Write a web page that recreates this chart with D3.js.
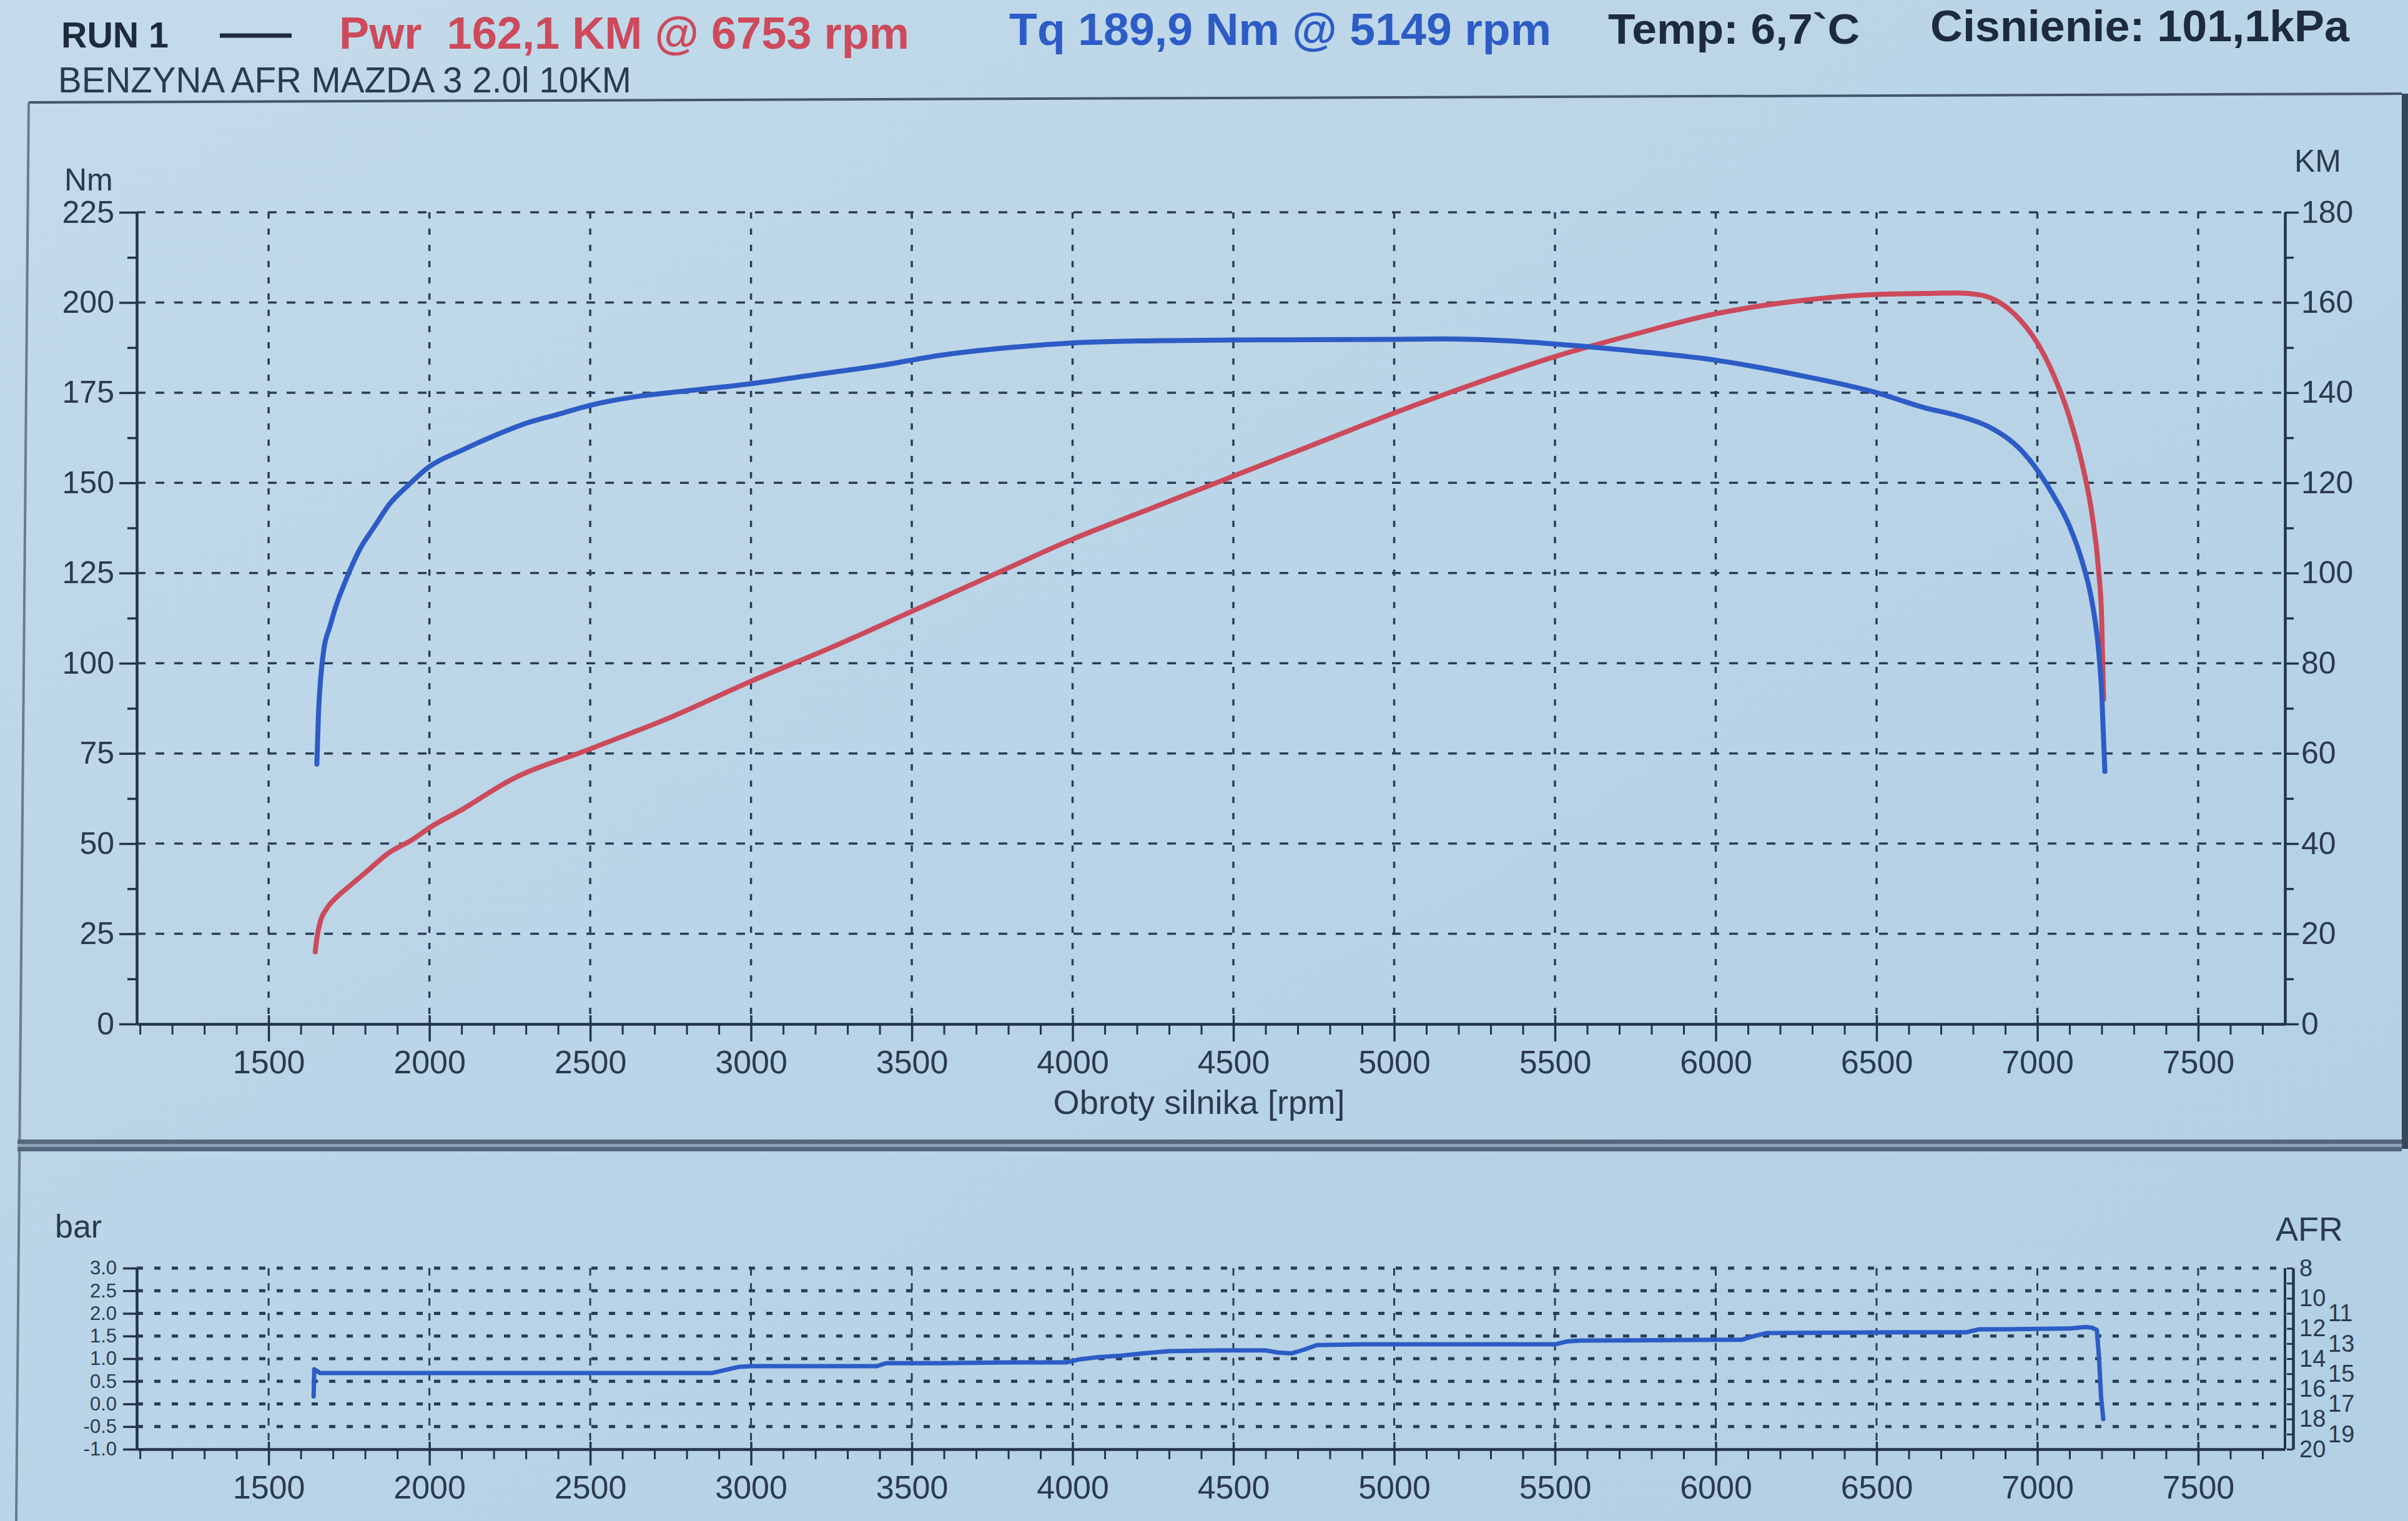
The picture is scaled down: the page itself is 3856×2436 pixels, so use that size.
<!DOCTYPE html>
<html><head><meta charset="utf-8">
<script src="https://cdn.jsdelivr.net/npm/d3@7"></script>
<style>html,body{margin:0;padding:0;background:#bad5e8;} svg{display:block} text{white-space:pre}</style>
</head><body>
<svg id="c" width="3856" height="2436"></svg>
<script>
// ---------- DATA ----------
const rpmTicks = [1500,2000,2500,3000,3500,4000,4500,5000,5500,6000,6500,7000,7500];
const nmTicks  = [0,25,50,75,100,125,150,175,200,225];
const kmTicks  = [0,20,40,60,80,100,120,140,160,180];
const barTicks = [-1.0,-0.5,0.0,0.5,1.0,1.5,2.0,2.5,3.0];
const afrTicks = [8,10,11,12,13,14,15,16,17,18,19,20];

const torqueRpm = [1650,1655,1662,1672,1690,1710,1740,1780,1830,1875,1930,2000,2100,2200,2300,2400,2500,2650,2800,3000,3200,3400,3600,3800,4000,4250,4500,4750,5000,5149,5300,5500,5750,6000,6250,6500,6650,6753,6850,6950,7000,7050,7100,7140,7170,7190,7200,7210];
const torqueNm  = [72,86,96,104,110,116,123,131,138,144,149,154.5,159,163,166.5,169,171.5,174,175.5,177.5,180,182.5,185.5,187.5,188.8,189.4,189.6,189.7,189.8,189.9,189.6,188.5,186.5,184,180,175,170.8,168.6,165.5,159,153.5,146.5,138,128,117,104,92,70];

const powerRpm = [1645,1650,1660,1680,1710,1750,1800,1875,1950,2000,2100,2250,2500,2750,3000,3250,3500,3750,4000,4250,4500,4750,5000,5250,5500,5750,6000,6250,6500,6650,6753,6820,6870,6920,6960,7000,7050,7100,7140,7170,7190,7200,7206];
const powerKm  = [16,19,22.5,25.5,28,30.5,33.5,38,41,43.5,47.5,54,61,68,76,83.5,91.5,99.5,107.5,114.5,121.5,128.5,135.5,142,148,153,157.5,160.3,161.8,162,162.1,161.7,160.5,158,155,151,144,134.5,124,113,101,90,72];

const afrRpm = [1640,1642,1660,1800,2000,2200,2500,2700,2880,2920,2960,3000,3200,3390,3420,3600,3800,3980,4020,4080,4150,4220,4300,4450,4600,4640,4680,4720,4760,4900,5100,5300,5500,5540,5580,5800,6000,6080,6120,6160,6400,6600,6780,6820,6900,7000,7100,7150,7170,7185,7192,7198,7205];
const afrVal = [16.5,14.7,14.95,14.95,14.95,14.95,14.95,14.95,14.95,14.75,14.55,14.5,14.5,14.5,14.3,14.3,14.25,14.25,14.05,13.9,13.8,13.65,13.5,13.45,13.45,13.6,13.65,13.4,13.1,13.05,13.05,13.05,13.05,12.85,12.8,12.78,12.75,12.75,12.5,12.3,12.27,12.25,12.25,12.05,12.05,12.02,12.0,11.9,11.95,12.1,14.0,16.5,18.0];

// ---------- SETUP ----------
const W = 3856, H = 2436;
const FONT = "'Liberation Sans', Arial, sans-serif";
const INK = '#1d2b3c';
const GRID = '#2a3c53';
const AX = '#22334a';
const BLUE = '#2d5cc6';
const RED = '#cc4a5b';

const svg = d3.select('#c');
const defs = svg.append('defs');
const lg = defs.append('linearGradient').attr('id','bg').attr('x1',0).attr('y1',0).attr('x2',1).attr('y2',1);
lg.append('stop').attr('offset',0).attr('stop-color','#c3dbea');
lg.append('stop').attr('offset',0.5).attr('stop-color','#b9d4e7');
lg.append('stop').attr('offset',1).attr('stop-color','#b2cfe4');
svg.append('rect').attr('width',W).attr('height',H).attr('fill','url(#bg)');

// frame decoration
svg.append('line').attr('x1',46).attr('y1',164).attr('x2',3846).attr('y2',150).attr('stroke','#44556b').attr('stroke-width',4);
svg.append('line').attr('x1',46).attr('y1',164).attr('x2',26).attr('y2',2436).attr('stroke','#6a7b8e').attr('stroke-width',4);
svg.append('rect').attr('x',28).attr('y',1825).attr('width',3818).attr('height',19).attr('fill','#56677b');
svg.append('line').attr('x1',28).attr('y1',1834.5).attr('x2',3846).attr('y2',1834.5).attr('stroke','#8aa2b7').attr('stroke-width',5);
svg.append('rect').attr('x',3846).attr('y',150).attr('width',10).attr('height',1690).attr('fill','#34465a');

// ---------- SCALES ----------
const x = d3.scaleLinear().domain([1090,7770]).range([219,3659]);
const yNm = d3.scaleLinear().domain([0,225]).range([1640,340]);
const yKm = d3.scaleLinear().domain([0,180]).range([1640,340]);
const yBar = d3.scaleLinear().domain([-1,3]).range([2321,2031]);
const yAfr = d3.scaleLinear().domain([20,8]).range([2321,2031]);

function styleAxis(g, fs, lw){
  g.attr('font-family', FONT).attr('font-size', fs).attr('color', INK);
  g.select('.domain').attr('stroke', AX).attr('stroke-width', 4.5);
  g.selectAll('.tick line').attr('stroke', AX).attr('stroke-width', lw || 3.5);
  g.selectAll('.tick text').attr('fill', '#2b3a4e');
}

// ---------- MAIN GRID ----------
const gGrid = svg.append('g');
gGrid.selectAll('line.h').data(nmTicks.filter(d => d > 0)).join('line')
  .attr('x1', x.range()[0]).attr('x2', x.range()[1])
  .attr('y1', d => yNm(d)).attr('y2', d => yNm(d))
  .attr('stroke', GRID).attr('stroke-width', 3.5).attr('stroke-dasharray', '14,16');
gGrid.selectAll('line.v').data(rpmTicks).join('line')
  .attr('x1', d => x(d)).attr('x2', d => x(d))
  .attr('y1', yNm(225)).attr('y2', yNm(0))
  .attr('stroke', GRID).attr('stroke-width', 3.5).attr('stroke-dasharray', '10,16');

// ---------- MAIN AXES ----------
const gL = svg.append('g').attr('transform', `translate(${x.range()[0]},0)`)
  .call(d3.axisLeft(yNm).tickValues(nmTicks).tickSize(28).tickPadding(8).tickSizeOuter(0));
styleAxis(gL, 50);
const gLm = svg.append('g').attr('transform', `translate(${x.range()[0]},0)`)
  .call(d3.axisLeft(yNm).tickValues(d3.range(12.5, 225, 25)).tickSize(15).tickFormat('').tickSizeOuter(0));
styleAxis(gLm, 50); gLm.select('.domain').remove();

const gR = svg.append('g').attr('transform', `translate(${x.range()[1]},0)`)
  .call(d3.axisRight(yKm).tickValues(kmTicks).tickSize(22).tickPadding(4).tickSizeOuter(0));
styleAxis(gR, 50);
const gRm = svg.append('g').attr('transform', `translate(${x.range()[1]},0)`)
  .call(d3.axisRight(yKm).tickValues(d3.range(10, 180, 20)).tickSize(14).tickFormat('').tickSizeOuter(0));
styleAxis(gRm, 50); gRm.select('.domain').remove();

const gX = svg.append('g').attr('transform', `translate(0,${yNm(0)})`)
  .call(d3.axisBottom(x).tickValues(rpmTicks).tickSize(28).tickPadding(14).tickFormat(d3.format('d')).tickSizeOuter(0));
styleAxis(gX, 52);
const gXu = svg.append('g').attr('transform', `translate(0,${yNm(0)})`)
  .call(d3.axisTop(x).tickValues(rpmTicks).tickSize(14).tickFormat('').tickSizeOuter(0));
styleAxis(gXu, 52); gXu.select('.domain').remove();
const gXm = svg.append('g').attr('transform', `translate(0,${yNm(0)})`)
  .call(d3.axisBottom(x).tickValues(d3.range(1100, 7800, 100).filter(d => d % 500)).tickSize(17).tickFormat('').tickSizeOuter(0));
styleAxis(gXm, 52, 3); gXm.select('.domain').remove();

// ---------- MAIN CURVES ----------
const lineNm = d3.line().x(d => x(d[0])).y(d => yNm(d[1])).curve(d3.curveMonotoneX);
const lineKm = d3.line().x(d => x(d[0])).y(d => yKm(d[1])).curve(d3.curveMonotoneX);
svg.append('path').datum(d3.zip(powerRpm, powerKm)).attr('d', lineKm)
  .attr('fill','none').attr('stroke', RED).attr('stroke-width', 8).attr('stroke-linejoin','round').attr('stroke-linecap','round');
svg.append('path').datum(d3.zip(torqueRpm, torqueNm)).attr('d', lineNm)
  .attr('fill','none').attr('stroke', BLUE).attr('stroke-width', 8).attr('stroke-linejoin','round').attr('stroke-linecap','round');

// axis titles
function txt(s, xx, yy, fs, opts = {}) {
  const t = svg.append('text').attr('x', xx).attr('y', yy).text(s)
    .attr('font-family', FONT).attr('font-size', fs).attr('fill', opts.fill || '#2b3a4e')
    .attr('font-weight', opts.bold ? 'bold' : 'normal');
  if (opts.anchor) t.attr('text-anchor', opts.anchor);
  if (opts.len) t.attr('textLength', opts.len).attr('lengthAdjust', 'spacingAndGlyphs');
  return t;
}
txt('Nm', 103, 305, 50);
txt('KM', 3674, 275, 50);
txt('Obroty silnika [rpm]', 1920, 1784, 54, {anchor: 'middle', len: 467});

// ---------- HEADER ----------
txt('RUN 1', 98, 76, 58, {bold: true, fill: INK, len: 172});
svg.append('line').attr('x1', 352).attr('x2', 467).attr('y1', 57).attr('y2', 57).attr('stroke', INK).attr('stroke-width', 7);
txt('Pwr  162,1 KM @ 6753 rpm', 543, 78, 72, {bold: true, fill: RED, len: 913});
txt('Tq 189,9 Nm @ 5149 rpm', 1616, 72, 72, {bold: true, fill: BLUE, len: 868});
txt('Temp: 6,7`C', 2575, 70, 68, {bold: true, fill: INK, len: 403});
txt('Cisnienie: 101,1kPa', 3091, 66, 70, {bold: true, fill: INK, len: 671});
txt('BENZYNA AFR MAZDA 3 2.0l 10KM', 93, 148, 58, {fill: '#2b3a4e', len: 918});

// ---------- BOTTOM PANEL ----------
const gB = svg.append('g');
gB.selectAll('line.h').data(barTicks.filter(d => d > -1)).join('line')
  .attr('x1', x.range()[0]).attr('x2', x.range()[1])
  .attr('y1', d => yBar(d)).attr('y2', d => yBar(d))
  .attr('stroke', GRID).attr('stroke-width', 5).attr('stroke-dasharray', '10,18');
gB.selectAll('line.v').data(rpmTicks).join('line')
  .attr('x1', d => x(d)).attr('x2', d => x(d))
  .attr('y1', yBar(3)).attr('y2', yBar(-1))
  .attr('stroke', GRID).attr('stroke-width', 3).attr('stroke-dasharray', '12,12');
svg.append('line').attr('x1', x.range()[1]).attr('x2', x.range()[1]).attr('y1', yBar(3)).attr('y2', yBar(-1))
  .attr('stroke', AX).attr('stroke-width', 4);

const gBL = svg.append('g').attr('transform', `translate(${x.range()[0]},0)`)
  .call(d3.axisLeft(yBar).tickValues(barTicks).tickSize(22).tickPadding(10).tickFormat(d => d.toFixed(1)).tickSizeOuter(0));
styleAxis(gBL, 31);

// AFR axis: even labels in one column, odd labels in a second column so they stay legible
const afrEven = afrTicks.filter(d => d % 2 === 0);
const afrOdd = afrTicks.filter(d => d % 2 === 1);
const gBR = svg.append('g').attr('transform', `translate(3672,0)`)
  .call(d3.axisRight(yAfr).tickValues(afrEven).tickSize(-10).tickPadding(10).tickFormat(d3.format('d')).tickSizeOuter(0));
styleAxis(gBR, 38, 3);
const gBR2 = svg.append('g').attr('transform', `translate(3672,0)`)
  .call(d3.axisRight(yAfr).tickValues(afrOdd).tickSize(-10).tickPadding(56).tickFormat(d3.format('d')).tickSizeOuter(0));
styleAxis(gBR2, 38, 3); gBR2.select('.domain').remove();
const gBRm = svg.append('g').attr('transform', `translate(3672,0)`)
  .call(d3.axisRight(yAfr).tickValues([9]).tickSize(-10).tickFormat('').tickSizeOuter(0));
styleAxis(gBRm, 38, 3); gBRm.select('.domain').remove();

const gBX = svg.append('g').attr('transform', `translate(0,${yBar(-1)})`)
  .call(d3.axisBottom(x).tickValues(rpmTicks).tickSize(26).tickPadding(16).tickFormat(d3.format('d')).tickSizeOuter(0));
styleAxis(gBX, 52);
const gBXu = svg.append('g').attr('transform', `translate(0,${yBar(-1)})`)
  .call(d3.axisTop(x).tickValues(rpmTicks).tickSize(12).tickFormat('').tickSizeOuter(0));
styleAxis(gBXu, 52); gBXu.select('.domain').remove();
const gBXm = svg.append('g').attr('transform', `translate(0,${yBar(-1)})`)
  .call(d3.axisBottom(x).tickValues(d3.range(1100, 7800, 100).filter(d => d % 500)).tickSize(16).tickFormat('').tickSizeOuter(0));
styleAxis(gBXm, 52, 3); gBXm.select('.domain').remove();

txt('bar', 88, 1982, 52);
txt('AFR', 3644, 1987, 54);

const lineAfr = d3.line().x(d => x(d[0])).y(d => yAfr(d[1]));
svg.append('path').datum(d3.zip(afrRpm, afrVal)).attr('d', lineAfr)
  .attr('fill','none').attr('stroke', BLUE).attr('stroke-width', 7).attr('stroke-linejoin','round').attr('stroke-linecap','round');
</script>
</body></html>
